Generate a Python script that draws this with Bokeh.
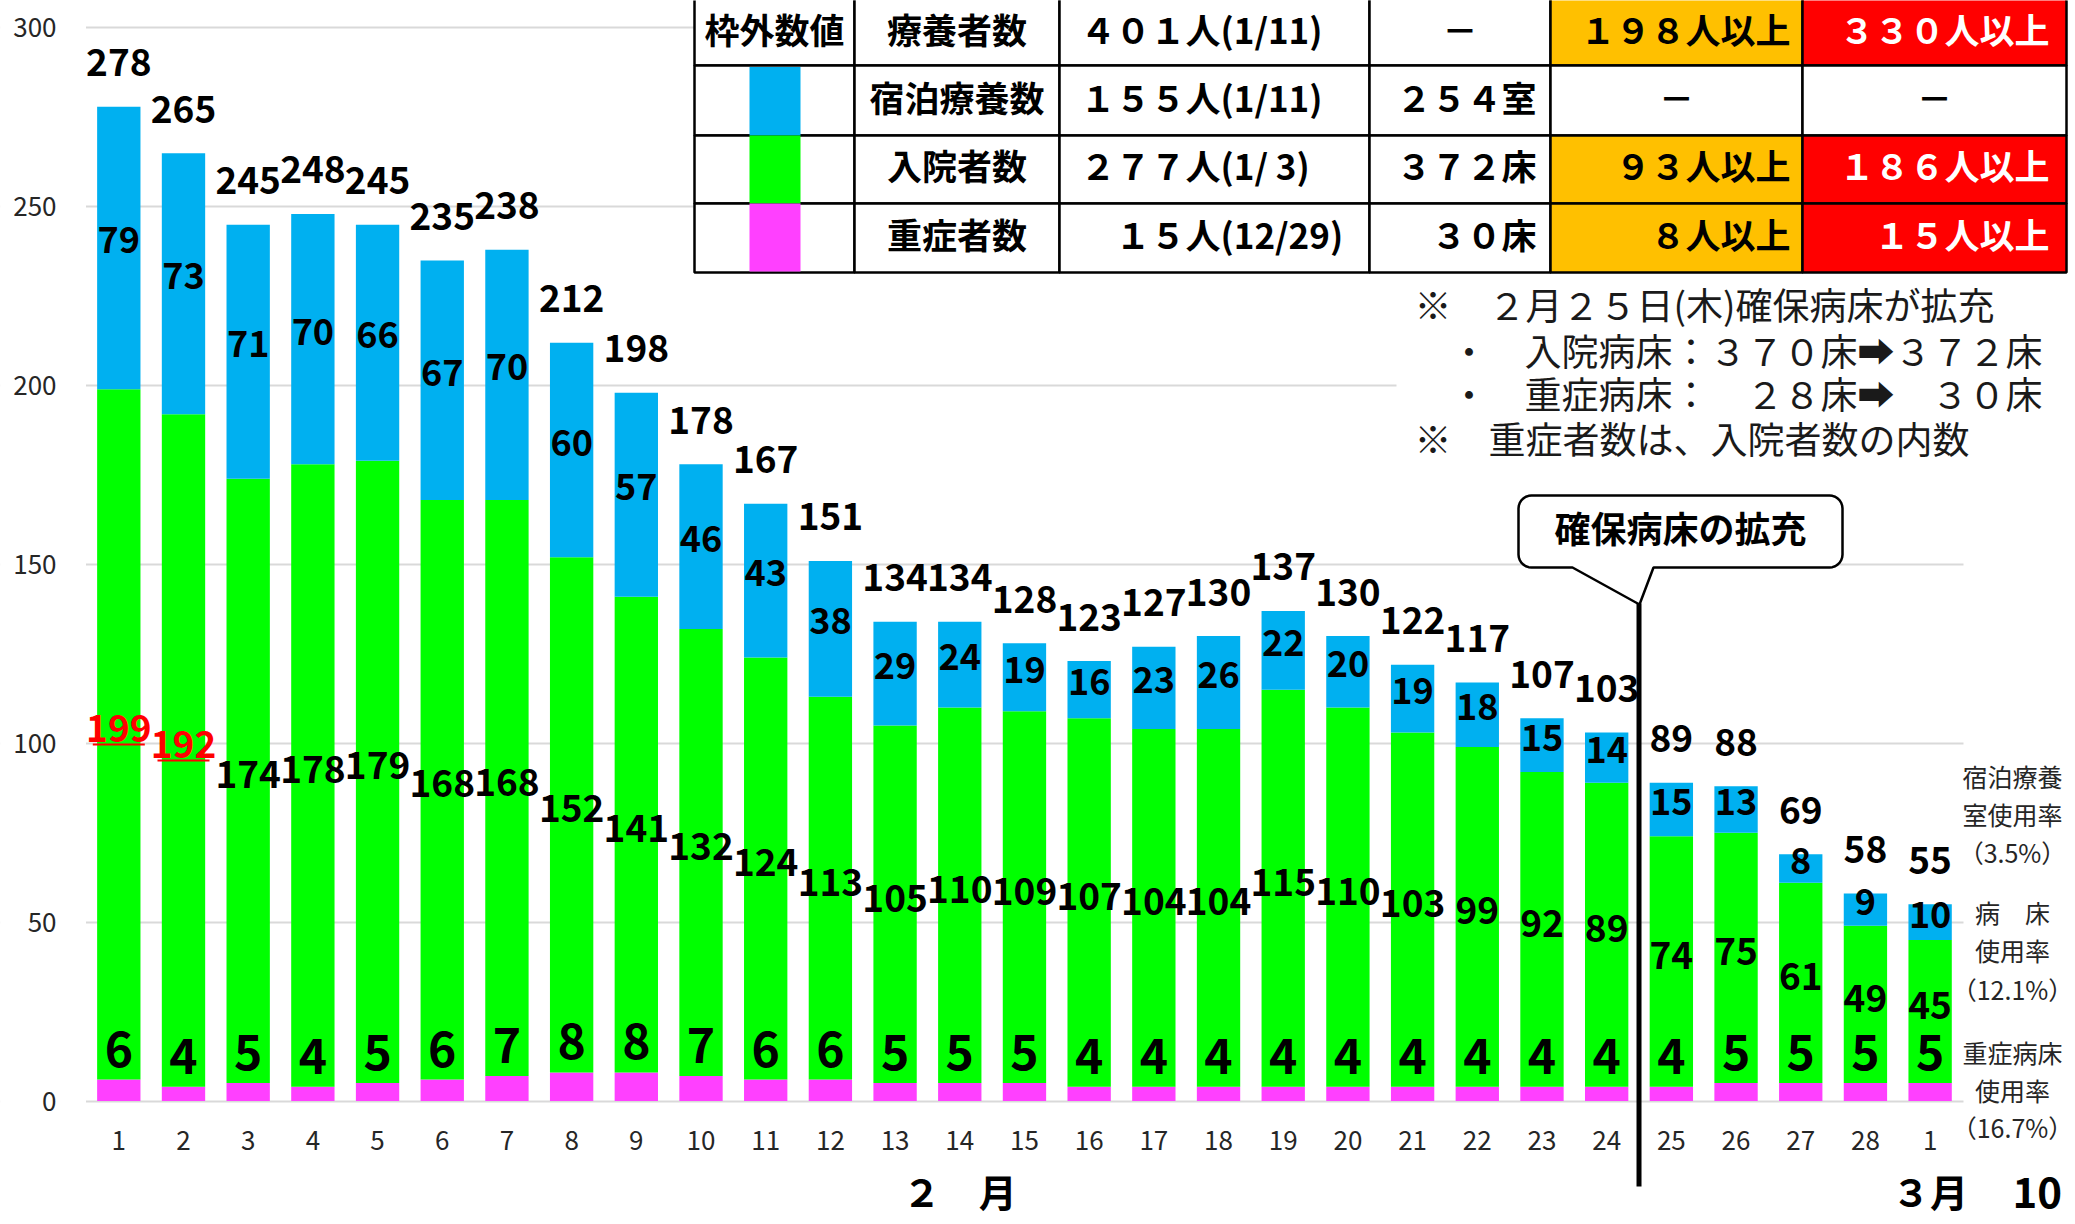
import numpy as np
from bokeh.plotting import figure
from bokeh.models import Range1d, LinearAxis, FixedTicker, Grid
from bokeh.core.properties import value
from bokeh.embed import file_html
from bokeh.resources import INLINE

# ---------------- data ----------------
days = [str(d) for d in range(1, 29)] + ["1"]
severe = [6, 4, 5, 4, 5, 6, 7, 8, 8, 7, 6, 6, 5, 5, 5, 4, 4, 4, 4, 4, 4, 4, 4, 4, 4, 5, 5, 5, 5]
hospital = [199, 192, 174, 178, 179, 168, 168, 152, 141, 132, 124, 113, 105, 110, 109, 107, 104, 104,
            115, 110, 103, 99, 92, 89, 74, 75, 61, 49, 45]
hotel = [79, 73, 71, 70, 66, 67, 70, 60, 57, 46, 43, 38, 29, 24, 19, 16, 23, 26, 22, 20, 19, 18, 15, 14,
         15, 13, 8, 9, 10]
y_ticks = [0, 50, 100, 150, 200, 250, 300]
month_labels = {14: "２　月", 29: "３月"}
expansion_index = 25          # 2/25: bed expansion (first bar after the line)
hosp_stage4 = 186              # hospital stage-4 threshold -> red labels

tbl_head = ["枠外数値", "療養者数", "４０１人(1/11)", "－", "１９８人以上", "３３０人以上"]
tbl_items = ["宿泊療養数", "入院者数", "重症者数"]
tbl_peak = ["１５５人(1/11)", "２７７人(1/ 3)", "　１５人(12/29)"]
tbl_capacity = ["２５４室", "３７２床", "３０床"]
tbl_stage3 = ["－", "９３人以上", "８人以上"]
tbl_stage4 = ["－", "１８６人以上", "１５人以上"]

notes = ["※　２月２５日(木)確保病床が拡充",
         "・　入院病床：３７０床➡３７２床",
         "・　重症病床：　２８床➡　３０床",
         "※　重症者数は、入院者数の内数"]
rate_notes = [["宿泊療養", "室使用率", "（3.5%）"],
              ["病　床", "使用率", "（12.1%）"],
              ["重症病床", "使用率", "（16.7%）"]]
callout_text = "確保病床の拡充"
page_no = "10"

# ---------------- colors / fonts ----------------
C_SEV, C_HOSP, C_HOTEL = "#FF40FF", "#00FF00", "#00B0F0"
C_ORANGE, C_RED = "#FFC000", "#FF0000"
CJK = "Noto Sans CJK JP"
NUM = "Noto Sans CJK JP"

# ---------------- pixel helpers (reference layout) ----------------
PX0, DXP = 118.3, 64.69     # px of bar 1 centre, px per category
PY0, DYP = 1100.5, 3.5767   # px of y=0, px per unit
WIDTH, HEIGHT = 2075, 1224
CJK_SHIFT = 4               # middle-baseline correction for CJK glyphs (px)


def X(px):
    return 1 + (px - PX0) / DXP


def Y(py):
    return (PY0 - py) / DYP


def dpy(n):
    return n / DYP


p = figure(width=WIDTH, height=HEIGHT,
           x_range=Range1d(X(0), X(WIDTH)), y_range=Range1d(Y(HEIGHT), Y(0)),
           x_axis_type=None, y_axis_type=None, toolbar_location=None,
           output_backend="svg", min_border=0)
p.outline_line_color = None
p.background_fill_color = "white"
p.border_fill_color = "white"

# grid
p.add_layout(Grid(dimension=1, ticker=FixedTicker(ticks=y_ticks),
                  grid_line_color="#d9d9d9", grid_line_width=2))

# white covers to limit grid extents
p.quad(left=[X(-20), X(1963), X(1396)], right=[X(85.5), X(2120), X(2120)],
       bottom=[Y(1104), Y(1104), Y(470)], top=[Y(-20), Y(-20), Y(270)],
       fill_color="white", line_color=None)

# axes
yaxis = LinearAxis(fixed_location=X(86), ticker=FixedTicker(ticks=y_ticks))
xaxis = LinearAxis(fixed_location=0, ticker=FixedTicker(ticks=list(range(1, 30))),
                   major_label_overrides={i + 1: d for i, d in enumerate(days)})
maxis = LinearAxis(fixed_location=0, ticker=FixedTicker(ticks=list(month_labels.keys())),
                   major_label_overrides=month_labels)
for ax in (yaxis, xaxis, maxis):
    ax.axis_line_color = None
    ax.major_tick_line_color = None
    ax.minor_tick_line_color = None
    ax.major_tick_out = 0
    ax.major_tick_in = 0
    ax.major_label_text_color = "#262626"
    ax.major_label_text_font = CJK
yaxis.major_label_text_font_size = "26px"
yaxis.major_label_standoff = 30
xaxis.major_label_text_font_size = "26px"
xaxis.major_label_standoff = 30
maxis.major_label_text_font_size = "38px"
maxis.major_label_text_font_style = "bold"
maxis.major_label_text_color = "black"
maxis.major_label_standoff = 62
p.add_layout(yaxis, "left")
p.add_layout(xaxis, "below")
p.add_layout(maxis, "below")

# ---------------- bars ----------------
x = np.arange(1, len(days) + 1)
sev = np.array(severe, dtype=float)
hos = np.array(hospital, dtype=float)
tot = hos + np.array(hotel, dtype=float)
W = 0.67
p.vbar(x=x, width=W, bottom=0, top=sev, fill_color=C_SEV, line_color=None)
p.vbar(x=x, width=W, bottom=sev, top=hos, fill_color=C_HOSP, line_color=None)
p.vbar(x=x, width=W, bottom=hos, top=tot, fill_color=C_HOTEL, line_color=None)

# labels
bold = dict(text_font=value(NUM), text_font_style="bold", text_align="center",
            text_baseline="middle")
p.text(x=x, y=tot + dpy(44), text=[str(int(v)) for v in tot],
       text_font_size="37px", text_color="black", **bold)
p.text(x=x, y=(hos + tot) / 2 + dpy(8), text=[str(v) for v in hotel],
       text_font_size="36px", text_color="black", **bold)
green_cols = [C_RED if h >= hosp_stage4 else "black" for h in hospital]
gy = (sev + hos) / 2 + dpy(6)
p.text(x=x, y=gy, text=[str(v) for v in hospital],
       text_font_size="37px", text_color=green_cols, **bold)
red_idx = [i for i, h in enumerate(hospital) if h >= hosp_stage4]
p.segment(x0=[x[i] - 26 / DXP for i in red_idx], x1=[x[i] + 26 / DXP for i in red_idx],
          y0=[gy[i] - dpy(16) for i in red_idx], y1=[gy[i] - dpy(16) for i in red_idx],
          line_color=C_RED, line_width=2)
p.text(x=x, y=sev + dpy(31), text=[str(v) for v in severe],
       text_font_size="48px", text_color="black", **bold)

# ---------------- table ----------------
col_px = [694, 854, 1059, 1369, 1550, 1802, 2066]
row_px = [-3, 65, 135, 203, 272]
rows = [tbl_head] + [["", tbl_items[i], tbl_peak[i], tbl_capacity[i], tbl_stage3[i], tbl_stage4[i]]
                     for i in range(3)]
fills = []
L, R, B, T = [], [], [], []
for r in range(4):
    for c in range(6):
        L.append(X(col_px[c])); R.append(X(col_px[c + 1]))
        T.append(Y(row_px[r])); B.append(Y(row_px[r + 1]))
        if c == 4 and rows[r][c] != "－":
            fills.append(C_ORANGE)
        elif c == 5 and rows[r][c] != "－":
            fills.append(C_RED)
        else:
            fills.append("white")
p.quad(left=L, right=R, bottom=B, top=T, fill_color=fills, line_color="black", line_width=2.5)
sw_top = [66.5, 135, 203]
sw_bot = [135, 203, 271]
p.quad(left=[X(749)] * 3, right=[X(800)] * 3, top=[Y(v) for v in sw_top], bottom=[Y(v) for v in sw_bot],
       fill_color=[C_HOTEL, C_HOSP, C_SEV], line_color=None)

row_cy = [32, 100, 168, 237]
tx, ty, tt, ta, tc = [], [], [], [], []
for r in range(4):
    for c in range(6):
        s = rows[r][c]
        if not s:
            continue
        if c in (0, 1) or s == "－":
            xx, al = (col_px[c] + col_px[c + 1]) / 2, "center"
        elif c == 2:
            xx, al = 1080, "left"
        else:
            xx, al = {3: 1536, 4: 1790, 5: 2049}[c], "right"
        tx.append(X(xx)); ty.append(Y(row_cy[r] - CJK_SHIFT)); tt.append(s); ta.append(al)
        tc.append("white" if (c == 5 and s != "－") else "black")
p.text(x=tx, y=ty, text=tt, text_align=ta, text_color=tc, text_baseline="middle",
       text_font=value(CJK), text_font_style="bold", text_font_size="35px")

# ---------------- notes ----------------
p.text(x=[X(v) for v in [1414, 1450, 1450, 1414]],
       y=[Y(v - CJK_SHIFT) for v in [307, 353, 396, 441]], text=notes,
       text_align="left", text_baseline="middle", text_font=value(CJK), text_font_size="37px",
       text_color="#1a1a1a")

rx, ry, rt = [], [], []
for grp, ys in zip(rate_notes, [[779, 817, 855], [915, 953, 992], [1055, 1093, 1130]]):
    for s, yy in zip(grp, ys):
        rx.append(X(2012)); ry.append(Y(yy - CJK_SHIFT)); rt.append(s)
p.text(x=rx, y=ry, text=rt, text_align="center", text_baseline="middle", text_font=value(CJK),
       text_font_size="25px", text_color="#262626")

# ---------------- callout & line ----------------
bx0, bx1, by0, by1, rr = 1518, 1842, 495, 567, 13
pts = [(bx0 + rr, by0), (bx1 - rr, by0)]
for a in np.linspace(-np.pi / 2, 0, 8):
    pts.append((bx1 - rr + rr * np.cos(a), by0 + rr + rr * np.sin(a)))
for a in np.linspace(0, np.pi / 2, 8):
    pts.append((bx1 - rr + rr * np.cos(a), by1 - rr + rr * np.sin(a)))
pts += [(1653, by1), (1639, 604), (1572, by1)]
for a in np.linspace(np.pi / 2, np.pi, 8):
    pts.append((bx0 + rr + rr * np.cos(a), by1 - rr + rr * np.sin(a)))
for a in np.linspace(np.pi, 1.5 * np.pi, 8):
    pts.append((bx0 + rr + rr * np.cos(a), by0 + rr + rr * np.sin(a)))
p.patch(x=[X(a) for a, b in pts], y=[Y(b) for a, b in pts], fill_color="white",
        line_color="black", line_width=2.5)
p.text(x=[X(1680)], y=[Y(530 - CJK_SHIFT)], text=[callout_text], text_align="center",
       text_baseline="middle", text_font=value(CJK), text_font_style="bold",
       text_font_size="36px", text_color="black")

xl = expansion_index - 0.5
p.segment(x0=[xl], x1=[xl], y0=[Y(603)], y1=[Y(1186)], line_color="black", line_width=5)

p.text(x=[X(2012)], y=[Y(1192)], text=[page_no], text_align="left", text_baseline="middle",
       text_font=value(NUM), text_font_style="bold", text_font_size="42px",
       text_color="black")

open("out.html", "w").write(file_html(p, INLINE))
